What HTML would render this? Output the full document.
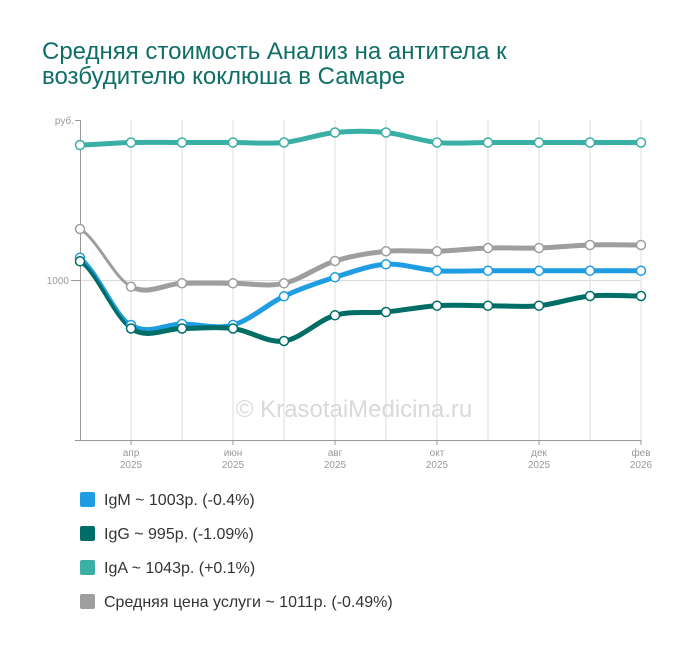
<!DOCTYPE html>
<html><head><meta charset="utf-8"><style>
html,body{margin:0;padding:0;background:#fff;}
body{width:700px;height:651px;overflow:hidden;position:relative;font-family:"Liberation Sans",Arial,sans-serif;}
.title{position:absolute;left:42px;top:39px;font-size:24px;line-height:25px;color:#0f6f68;white-space:nowrap;}
.leg{position:absolute;left:80px;font-size:16px;color:#333;}
.leg span.sq{position:absolute;left:0;top:0;width:15px;height:15px;border-radius:2px;}
.leg span.t{position:absolute;left:24px;top:0px;white-space:nowrap;line-height:17px;}
</style></head><body>
<div class="title">Средняя стоимость Анализ на антитела к<br>возбудителю коклюша в Самаре</div>
<svg width="700" height="651" style="position:absolute;left:0;top:0" xmlns="http://www.w3.org/2000/svg" font-family="Liberation Sans, Arial, sans-serif">
<g stroke="#dcdcdc" stroke-width="1">
<line x1="131" y1="120" x2="131" y2="440"/>
<line x1="182" y1="120" x2="182" y2="440"/>
<line x1="233" y1="120" x2="233" y2="440"/>
<line x1="284" y1="120" x2="284" y2="440"/>
<line x1="335" y1="120" x2="335" y2="440"/>
<line x1="386" y1="120" x2="386" y2="440"/>
<line x1="437" y1="120" x2="437" y2="440"/>
<line x1="488" y1="120" x2="488" y2="440"/>
<line x1="539" y1="120" x2="539" y2="440"/>
<line x1="590" y1="120" x2="590" y2="440"/>
<line x1="641" y1="120" x2="641" y2="440"/>
<line x1="80" y1="280.5" x2="641" y2="280.5"/>
</g>
<text x="354" y="417" font-size="24" fill="#d9d9d9" text-anchor="middle">© KrasotaiMedicina.ru</text>
<g stroke="#999" stroke-width="1">
<line x1="80.5" y1="120" x2="80.5" y2="440"/>
<line x1="75" y1="120.5" x2="80" y2="120.5"/>
<line x1="71" y1="280.5" x2="80" y2="280.5"/>
<line x1="75" y1="440.5" x2="641" y2="440.5"/>
<line x1="131" y1="440" x2="131" y2="445"/>
<line x1="233" y1="440" x2="233" y2="445"/>
<line x1="335" y1="440" x2="335" y2="445"/>
<line x1="437" y1="440" x2="437" y2="445"/>
<line x1="539" y1="440" x2="539" y2="445"/>
<line x1="641" y1="440" x2="641" y2="445"/>
</g>
<g font-size="10" fill="#999">
<text x="74" y="124" text-anchor="end">руб.</text>
<text x="69" y="284" text-anchor="end">1000</text>
<g text-anchor="middle">
<text x="131" y="456">апр</text><text x="131" y="468">2025</text>
<text x="233" y="456">июн</text><text x="233" y="468">2025</text>
<text x="335" y="456">авг</text><text x="335" y="468">2025</text>
<text x="437" y="456">окт</text><text x="437" y="468">2025</text>
<text x="539" y="456">дек</text><text x="539" y="468">2025</text>
<text x="641" y="456">фев</text><text x="641" y="468">2026</text>
</g>
</g>
<g fill="none" stroke-linecap="round" stroke-linejoin="round">
<path stroke="#3aafa6" stroke-width="5" d="M80,145 C97,144.6 114,142.9 131,142.5 C148,142.1 165,142.5 182,142.5 C199,142.5 216,142.5 233,142.5 C250,142.5 267,144.2 284,142.5 C301,140.8 318,134.2 335,132.5 C352,130.8 369,130.8 386,132.5 C403,134.2 420,140.8 437,142.5 C454,144.2 471,142.5 488,142.5 L641,142.5"/>
<path stroke="#9e9e9e" stroke-width="3" d="M80,229 C97,238.6 114,277.65 131,286.7"/>
<path stroke="#9e9e9e" stroke-width="5" d="M131,286.7 C148,295.75 165,283.87 182,283.3 C199,282.73 216,283.3 233,283.3 C250,283.3 267,287.02 284,283.3 C301,279.58 318,266.33 335,261 C352,255.67 369,252.92 386,251.3 C403,249.68 420,251.85 437,251.3 C454,250.75 471,248.55 488,248 C505,247.45 522,248.5 539,248 C556,247.5 573,245.5 590,245 C607,244.5 624,245 641,245"/>
<path stroke="#1e9de3" stroke-width="3.5" d="M80,257.7 C97,268.92 114,313.95 131,325"/>
<path stroke="#1e9de3" stroke-width="5" d="M131,325 C148,336.05 165,324 182,324 C199,324 216,329.62 233,325 C250,320.38 267,304.25 284,296.3 C301,288.35 318,282.63 335,277.3 C352,271.97 369,265.4 386,264.3 C403,263.2 420,269.63 437,270.7 C454,271.77 471,270.7 488,270.7 L641,270.7"/>
<path stroke="#006e66" stroke-width="3.5" d="M80,261.3 C97,272.5 114,317.3 131,328.5"/>
<path stroke="#006e66" stroke-width="5" d="M131,328.5 C148,339.7 165,328.5 182,328.5 C199,328.5 216,326.42 233,328.5 C250,330.58 267,343.2 284,341 C301,338.8 318,320.13 335,315.3 C352,310.47 369,313.6 386,312 C403,310.4 420,306.75 437,305.7 C454,304.65 471,305.7 488,305.7 C505,305.7 522,307.32 539,305.7 C556,304.08 573,297.62 590,296 C607,294.38 624,296 641,296"/>
</g>
<g fill="#fff" stroke-width="1.5">
<g stroke="#3aafa6">
<circle cx="80" cy="145" r="4.5"/><circle cx="131" cy="142.5" r="4.5"/><circle cx="182" cy="142.5" r="4.5"/><circle cx="233" cy="142.5" r="4.5"/><circle cx="284" cy="142.5" r="4.5"/><circle cx="335" cy="132.5" r="4.5"/><circle cx="386" cy="132.5" r="4.5"/><circle cx="437" cy="142.5" r="4.5"/><circle cx="488" cy="142.5" r="4.5"/><circle cx="539" cy="142.5" r="4.5"/><circle cx="590" cy="142.5" r="4.5"/><circle cx="641" cy="142.5" r="4.5"/>
</g>
<g stroke="#9e9e9e">
<circle cx="80" cy="229" r="4.5"/><circle cx="131" cy="286.7" r="4.5"/><circle cx="182" cy="283.3" r="4.5"/><circle cx="233" cy="283.3" r="4.5"/><circle cx="284" cy="283.3" r="4.5"/><circle cx="335" cy="261" r="4.5"/><circle cx="386" cy="251.3" r="4.5"/><circle cx="437" cy="251.3" r="4.5"/><circle cx="488" cy="248" r="4.5"/><circle cx="539" cy="248" r="4.5"/><circle cx="590" cy="245" r="4.5"/><circle cx="641" cy="245" r="4.5"/>
</g>
<g stroke="#1e9de3">
<circle cx="80" cy="257.7" r="4.5"/><circle cx="131" cy="325" r="4.5"/><circle cx="182" cy="324" r="4.5"/><circle cx="233" cy="325" r="4.5"/><circle cx="284" cy="296.3" r="4.5"/><circle cx="335" cy="277.3" r="4.5"/><circle cx="386" cy="264.3" r="4.5"/><circle cx="437" cy="270.7" r="4.5"/><circle cx="488" cy="270.7" r="4.5"/><circle cx="539" cy="270.7" r="4.5"/><circle cx="590" cy="270.7" r="4.5"/><circle cx="641" cy="270.7" r="4.5"/>
</g>
<g stroke="#006e66">
<circle cx="80" cy="261.3" r="4.5"/><circle cx="131" cy="328.5" r="4.5"/><circle cx="182" cy="328.5" r="4.5"/><circle cx="233" cy="328.5" r="4.5"/><circle cx="284" cy="341" r="4.5"/><circle cx="335" cy="315.3" r="4.5"/><circle cx="386" cy="312" r="4.5"/><circle cx="437" cy="305.7" r="4.5"/><circle cx="488" cy="305.7" r="4.5"/><circle cx="539" cy="305.7" r="4.5"/><circle cx="590" cy="296" r="4.5"/><circle cx="641" cy="296" r="4.5"/>
</g>
</g>
</svg>
<div class="leg" style="top:492px"><span class="sq" style="background:#1e9de3"></span><span class="t">IgM ~ 1003р. (-0.4%)</span></div>
<div class="leg" style="top:526px"><span class="sq" style="background:#006e66"></span><span class="t">IgG ~ 995р. (-1.09%)</span></div>
<div class="leg" style="top:560px"><span class="sq" style="background:#3aafa6"></span><span class="t">IgA ~ 1043р. (+0.1%)</span></div>
<div class="leg" style="top:594px"><span class="sq" style="background:#9e9e9e"></span><span class="t">Средняя цена услуги ~ 1011р. (-0.49%)</span></div>
</body></html>
